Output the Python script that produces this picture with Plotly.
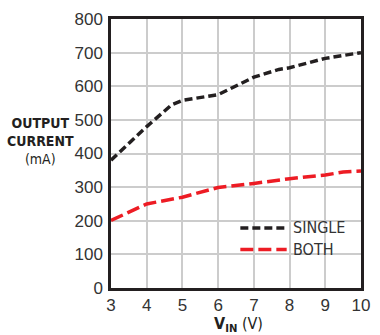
import plotly.graph_objects as go

vin_single = [3, 4, 4.7, 5, 6, 7, 7.7, 8, 9, 10]
cur_single = [380, 480, 545, 558, 575, 627, 650, 655, 683, 700]
vin_both = [3, 4, 5, 6, 7, 7.8, 8, 9, 9.5, 10]
cur_both = [201, 250, 270, 299, 311, 323, 325, 336, 345, 348]
x_ticks = [3, 4, 5, 6, 7, 8, 9, 10]
y_ticks = [0, 100, 200, 300, 400, 500, 600, 700, 800]

BLACK = "#231f20"
RED = "#ed1c24"
COND = "DejaVu Sans Condensed, sans-serif"
REG = "Liberation Sans, Arial, sans-serif"

fig = go.Figure()
fig.add_trace(go.Scatter(x=vin_single, y=cur_single, mode="lines", name="SINGLE",
                         line=dict(color=BLACK, width=3.5, dash="8px,4px"), showlegend=False))
fig.add_trace(go.Scatter(x=vin_both, y=cur_both, mode="lines", name="BOTH",
                         line=dict(color=RED, width=3.5, dash="13px,5px"), showlegend=False))

# legend box (white, hides gridlines)
fig.add_shape(type="rect", xref="paper", yref="paper", x0=(237-111)/259, x1=(355-111)/259,
              y0=(288-265)/273, y1=(288-211)/273, fillcolor="white", line_width=0, layer="between")
for name, col, dash, yy in [("SINGLE", BLACK, "8px,4px", 227), ("BOTH", RED, "13px,5px", 249)]:
    fig.add_shape(type="line", xref="paper", yref="paper",
                  x0=(245-111)/259, x1=(293-111)/259, y0=(288-yy)/273, y1=(288-yy)/273,
                  line=dict(color=col, width=3.5, dash=dash), layer="above")
    fig.add_annotation(xref="paper", yref="paper", x=(297-111)/259, y=(288-yy)/273,
                       text=name, showarrow=False, xanchor="left", yanchor="middle",
                       font=dict(family=COND, size=16, color="#333"))

fig.add_annotation(xref="paper", yref="paper", x=(38-111)/259, y=(288-139)/273,
                   text="<b>OUTPUT<br>CURRENT</b><br>(mA)", showarrow=False,
                   xanchor="center", yanchor="middle", align="center",
                   font=dict(family=COND, size=14, color=BLACK))
fig.add_annotation(xref="paper", yref="paper", x=(243-111)/259, y=(288-325)/273,
                   text="<b>V<sub>IN</sub></b> (V)", showarrow=False,
                   xanchor="center", yanchor="middle",
                   font=dict(family=COND, size=16, color=BLACK))

fig.update_xaxes(range=[3, 10], tickvals=x_ticks, showgrid=True, gridcolor="#cccccc", gridwidth=1.5,
                 showline=True, linecolor=BLACK, linewidth=2.5, mirror=True, ticks="",
                 tickfont=dict(family=REG, size=17, color="#333"), zeroline=False)
fig.update_yaxes(range=[0, 800], tickvals=y_ticks, showgrid=True, gridcolor="#cccccc", gridwidth=1.5,
                 showline=True, linecolor=BLACK, linewidth=2.5, mirror=True, ticks="",
                 ticklabelstandoff=2,
                 tickfont=dict(family=REG, size=17, color="#333"), zeroline=False)
fig.update_layout(width=380, height=335, margin=dict(l=111, r=10, t=15, b=47),
                  plot_bgcolor="white", paper_bgcolor="white", showlegend=False)
fig.write_html("out.html")
